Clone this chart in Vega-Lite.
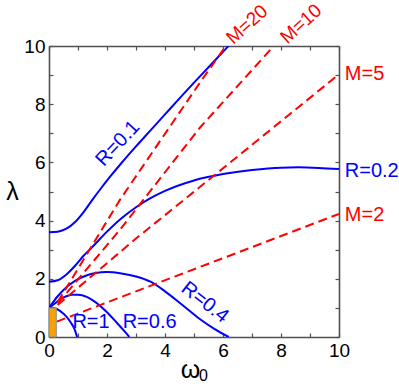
{
  "$schema": "https://vega.github.io/schema/vega-lite/v6.json",
  "width": 290,
  "height": 291,
  "autosize": {"type": "none"},
  "padding": {"left": 49, "top": 46, "right": 60, "bottom": 47},
  "config": {
    "font": "Liberation Sans",
    "view": {"stroke": null},
    "axis": {
      "grid": false,
      "domainColor": "#505050",
      "domainWidth": 1.6,
      "tickColor": "#505050",
      "tickWidth": 1.2,
      "tickSize": -4,
      "labelFontSize": 19,
      "labelColor": "#000000",
      "labelFont": "Liberation Sans",
      "labelOverlap": false,
      "labelFlush": false,
      "labelBound": false,
      "titleFont": "Liberation Sans",
      "titleFontWeight": "normal",
      "titleColor": "#000000"
    }
  },
  "datasets": {
    "curves": [
      {"s": "R=1", "t": "R", "x": 0, "y": 1.0},
      {"s": "R=1", "t": "R", "x": 0.2, "y": 0.99},
      {"s": "R=1", "t": "R", "x": 0.4, "y": 0.88},
      {"s": "R=1", "t": "R", "x": 0.6, "y": 0.7},
      {"s": "R=1", "t": "R", "x": 0.75, "y": 0.5},
      {"s": "R=1", "t": "R", "x": 0.88, "y": 0.27},
      {"s": "R=1", "t": "R", "x": 0.97, "y": 0},

      {"s": "R=0.6", "t": "R", "x": 0, "y": 1.0},
      {"s": "R=0.6", "t": "R", "x": 0.2, "y": 1.15},
      {"s": "R=0.6", "t": "R", "x": 0.4, "y": 1.3},
      {"s": "R=0.6", "t": "R", "x": 0.6, "y": 1.4},
      {"s": "R=0.6", "t": "R", "x": 0.8, "y": 1.45},
      {"s": "R=0.6", "t": "R", "x": 1.0, "y": 1.45},
      {"s": "R=0.6", "t": "R", "x": 1.3, "y": 1.38},
      {"s": "R=0.6", "t": "R", "x": 1.6, "y": 1.2},
      {"s": "R=0.6", "t": "R", "x": 2.0, "y": 0.85},
      {"s": "R=0.6", "t": "R", "x": 2.33, "y": 0.5},
      {"s": "R=0.6", "t": "R", "x": 2.6, "y": 0.2},
      {"s": "R=0.6", "t": "R", "x": 2.77, "y": 0},

      {"s": "R=0.4", "t": "R", "x": 0, "y": 1.0},
      {"s": "R=0.4", "t": "R", "x": 0.3, "y": 1.4},
      {"s": "R=0.4", "t": "R", "x": 0.6, "y": 1.71},
      {"s": "R=0.4", "t": "R", "x": 0.9, "y": 1.93},
      {"s": "R=0.4", "t": "R", "x": 1.2, "y": 2.08},
      {"s": "R=0.4", "t": "R", "x": 1.6, "y": 2.2},
      {"s": "R=0.4", "t": "R", "x": 2.0, "y": 2.23},
      {"s": "R=0.4", "t": "R", "x": 2.5, "y": 2.18},
      {"s": "R=0.4", "t": "R", "x": 3.0, "y": 2.08},
      {"s": "R=0.4", "t": "R", "x": 3.5, "y": 1.9},
      {"s": "R=0.4", "t": "R", "x": 4.0, "y": 1.57},
      {"s": "R=0.4", "t": "R", "x": 4.6, "y": 1.1},
      {"s": "R=0.4", "t": "R", "x": 5.2, "y": 0.62},
      {"s": "R=0.4", "t": "R", "x": 5.7, "y": 0.28},
      {"s": "R=0.4", "t": "R", "x": 6.2, "y": 0},

      {"s": "R=0.2", "t": "R", "x": 0, "y": 1.9},
      {"s": "R=0.2", "t": "R", "x": 0.3, "y": 1.95},
      {"s": "R=0.2", "t": "R", "x": 0.6, "y": 2.15},
      {"s": "R=0.2", "t": "R", "x": 0.9, "y": 2.45},
      {"s": "R=0.2", "t": "R", "x": 1.2, "y": 2.8},
      {"s": "R=0.2", "t": "R", "x": 1.5, "y": 3.1},
      {"s": "R=0.2", "t": "R", "x": 2.0, "y": 3.62},
      {"s": "R=0.2", "t": "R", "x": 2.5, "y": 4.08},
      {"s": "R=0.2", "t": "R", "x": 3.0, "y": 4.46},
      {"s": "R=0.2", "t": "R", "x": 3.5, "y": 4.77},
      {"s": "R=0.2", "t": "R", "x": 4.0, "y": 5.02},
      {"s": "R=0.2", "t": "R", "x": 5.0, "y": 5.38},
      {"s": "R=0.2", "t": "R", "x": 6.0, "y": 5.6},
      {"s": "R=0.2", "t": "R", "x": 7.0, "y": 5.74},
      {"s": "R=0.2", "t": "R", "x": 8.0, "y": 5.82},
      {"s": "R=0.2", "t": "R", "x": 8.6, "y": 5.83},
      {"s": "R=0.2", "t": "R", "x": 9.3, "y": 5.81},
      {"s": "R=0.2", "t": "R", "x": 10, "y": 5.77},

      {"s": "R=0.1", "t": "R", "x": 0, "y": 3.6},
      {"s": "R=0.1", "t": "R", "x": 0.3, "y": 3.62},
      {"s": "R=0.1", "t": "R", "x": 0.6, "y": 3.72},
      {"s": "R=0.1", "t": "R", "x": 0.9, "y": 3.95},
      {"s": "R=0.1", "t": "R", "x": 1.2, "y": 4.3},
      {"s": "R=0.1", "t": "R", "x": 1.5, "y": 4.72},
      {"s": "R=0.1", "t": "R", "x": 1.8, "y": 5.12},
      {"s": "R=0.1", "t": "R", "x": 2.1, "y": 5.5},
      {"s": "R=0.1", "t": "R", "x": 2.5, "y": 5.98},
      {"s": "R=0.1", "t": "R", "x": 3.0, "y": 6.55},
      {"s": "R=0.1", "t": "R", "x": 3.5, "y": 7.1},
      {"s": "R=0.1", "t": "R", "x": 4.0, "y": 7.65},
      {"s": "R=0.1", "t": "R", "x": 4.5, "y": 8.2},
      {"s": "R=0.1", "t": "R", "x": 5.0, "y": 8.74},
      {"s": "R=0.1", "t": "R", "x": 5.5, "y": 9.27},
      {"s": "R=0.1", "t": "R", "x": 6.0, "y": 9.8},
      {"s": "R=0.1", "t": "R", "x": 6.19, "y": 10},

      {"s": "M=2", "t": "M", "x": 0.27, "y": 0.53},
      {"s": "M=2", "t": "M", "x": 10, "y": 4.23},

      {"s": "M=5", "t": "M", "x": 0.3, "y": 1.1},
      {"s": "M=5", "t": "M", "x": 3.02, "y": 3.4},
      {"s": "M=5", "t": "M", "x": 6.24, "y": 5.99},
      {"s": "M=5", "t": "M", "x": 10, "y": 9.03},

      {"s": "M=10", "t": "M", "x": 0.3, "y": 1.15},
      {"s": "M=10", "t": "M", "x": 2.45, "y": 3.69},
      {"s": "M=10", "t": "M", "x": 5.21, "y": 7.2},
      {"s": "M=10", "t": "M", "x": 7.75, "y": 10},

      {"s": "M=20", "t": "M", "x": 0.3, "y": 1.2},
      {"s": "M=20", "t": "M", "x": 2.45, "y": 4.72},
      {"s": "M=20", "t": "M", "x": 5.21, "y": 8.75},
      {"s": "M=20", "t": "M", "x": 6.1, "y": 10}
    ],
    "labels": [
      {"label": "R=1", "t": "R", "g": "flat", "x": 1.45, "y": 0.52},
      {"label": "R=0.6", "t": "R", "g": "flat", "x": 3.47, "y": 0.53},
      {"label": "M=5", "t": "M", "g": "right", "x": 10.2, "y": 9.03},
      {"label": "R=0.2", "t": "R", "g": "right", "x": 10.2, "y": 5.7},
      {"label": "M=2", "t": "M", "g": "right", "x": 10.2, "y": 4.2},
      {"label": "M=20", "t": "M", "g": "top", "x": 6.83, "y": 10.74},
      {"label": "M=10", "t": "M", "g": "top", "x": 8.69, "y": 10.76},
      {"label": "R=0.1", "t": "R", "g": "r01", "x": 2.37, "y": 6.65},
      {"label": "R=0.4", "t": "R", "g": "r04", "x": 5.38, "y": 1.19}
    ]
  },
  "layer": [
    {
      "data": {"name": "curves"},
      "transform": [{"filter": "datum.t === 'R'"}],
      "mark": {"type": "line", "color": "#0000ff", "strokeWidth": 2, "interpolate": "monotone", "clip": true},
      "encoding": {
        "x": {"field": "x", "type": "quantitative",
              "scale": {"domain": [0, 10], "nice": false, "zero": false},
              "axis": {"orient": "bottom", "values": [0,1,2,3,4,5,6,7,8,9,10],
                       "labelExpr": "datum.value % 2 === 0 ? datum.label : ''",
                       "labelPadding": 8, "title": "ω", "titleFontSize": 25,
                       "titleX": 141, "titleY": 40, "titleBaseline": "alphabetic", "titleAlign": "center"}},
        "y": {"field": "y", "type": "quantitative",
              "scale": {"domain": [0, 10], "nice": false, "zero": false},
              "axis": {"orient": "left", "values": [0,1,2,3,4,5,6,7,8,9,10],
                       "labelExpr": "datum.value % 2 === 0 ? datum.label : ''",
                       "labelPadding": 8, "labelBaseline": "middle",
                       "title": "λ", "titleFontSize": 25, "titleAngle": 0,
                       "titleX": -37, "titleY": 153, "titleBaseline": "alphabetic", "titleAlign": "center"}},
        "detail": {"field": "s"}
      }
    },
    {
      "data": {"name": "curves"},
      "transform": [{"filter": "datum.t === 'M'"}],
      "mark": {"type": "line", "color": "#ff0000", "strokeWidth": 2, "strokeDash": [9, 5], "clip": true},
      "encoding": {
        "x": {"field": "x", "type": "quantitative", "axis": null},
        "y": {"field": "y", "type": "quantitative", "axis": null},
        "detail": {"field": "s"}
      }
    },
    {
      "data": {"values": [{"x": 0, "x2": 0.25, "y": 0, "y2": 1}]},
      "mark": {"type": "rect", "fill": "#f5a10a", "stroke": "#888888", "strokeWidth": 1},
      "encoding": {
        "x": {"field": "x", "type": "quantitative",
              "axis": {"orient": "top", "values": [0,1,2,3,4,5,6,7,8,9,10], "labels": false, "title": null}},
        "x2": {"field": "x2"},
        "y": {"field": "y", "type": "quantitative",
              "axis": {"orient": "right", "values": [0,1,2,3,4,5,6,7,8,9,10], "labels": false, "title": null}},
        "y2": {"field": "y2"}
      }
    },
    {
      "data": {"name": "labels"},
      "transform": [{"filter": "datum.g === 'flat'"}],
      "mark": {"type": "text", "fontSize": 20, "align": "center", "baseline": "middle"},
      "encoding": {
        "x": {"field": "x", "type": "quantitative", "axis": null},
        "y": {"field": "y", "type": "quantitative", "axis": null},
        "text": {"field": "label"},
        "color": {"field": "t", "type": "nominal", "scale": {"domain": ["R", "M"], "range": ["#0000ff", "#ff0000"]}, "legend": null}
      }
    },
    {
      "data": {"name": "labels"},
      "transform": [{"filter": "datum.g === 'right'"}],
      "mark": {"type": "text", "fontSize": 20, "align": "left", "baseline": "middle"},
      "encoding": {
        "x": {"field": "x", "type": "quantitative", "axis": null},
        "y": {"field": "y", "type": "quantitative", "axis": null},
        "text": {"field": "label"},
        "color": {"field": "t", "type": "nominal", "legend": null}
      }
    },
    {
      "data": {"name": "labels"},
      "transform": [{"filter": "datum.g === 'top'"}],
      "mark": {"type": "text", "fontSize": 19, "align": "center", "baseline": "middle", "angle": -42},
      "encoding": {
        "x": {"field": "x", "type": "quantitative", "axis": null},
        "y": {"field": "y", "type": "quantitative", "axis": null},
        "text": {"field": "label"},
        "color": {"field": "t", "type": "nominal", "legend": null}
      }
    },
    {
      "data": {"name": "labels"},
      "transform": [{"filter": "datum.g === 'r01'"}],
      "mark": {"type": "text", "fontSize": 20, "align": "center", "baseline": "middle", "angle": -47},
      "encoding": {
        "x": {"field": "x", "type": "quantitative", "axis": null},
        "y": {"field": "y", "type": "quantitative", "axis": null},
        "text": {"field": "label"},
        "color": {"field": "t", "type": "nominal", "legend": null}
      }
    },
    {
      "data": {"name": "labels"},
      "transform": [{"filter": "datum.g === 'r04'"}],
      "mark": {"type": "text", "fontSize": 20, "align": "center", "baseline": "middle", "angle": 38},
      "encoding": {
        "x": {"field": "x", "type": "quantitative", "axis": null},
        "y": {"field": "y", "type": "quantitative", "axis": null},
        "text": {"field": "label"},
        "color": {"field": "t", "type": "nominal", "legend": null}
      }
    },
    {
      "data": {"values": [{"label": "0", "x": 5.33, "y": -1.33}]},
      "mark": {"type": "text", "fontSize": 16, "align": "center", "baseline": "middle", "color": "#000000"},
      "encoding": {
        "x": {"field": "x", "type": "quantitative", "axis": null},
        "y": {"field": "y", "type": "quantitative", "axis": null},
        "text": {"field": "label"}
      }
    }
  ]
}
